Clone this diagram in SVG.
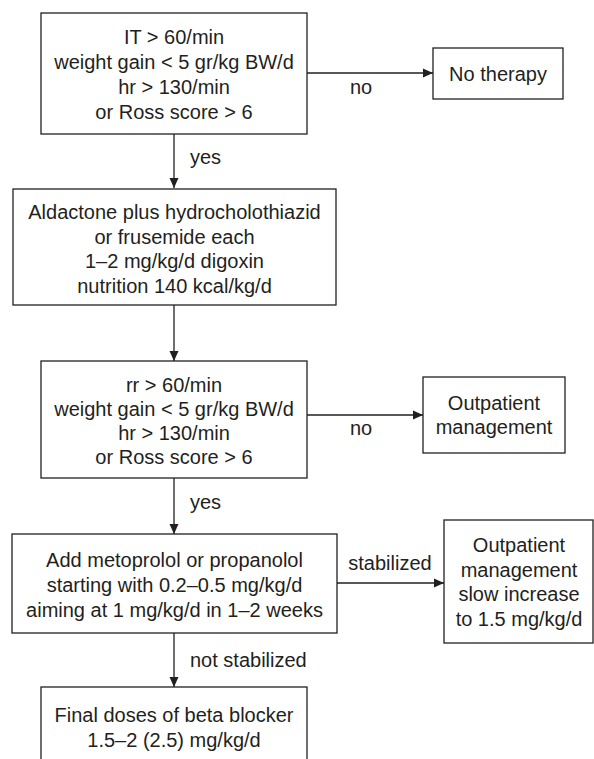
<svg xmlns="http://www.w3.org/2000/svg" width="594" height="759" viewBox="0 0 594 759">
<defs>
<marker id="ah" markerWidth="10" markerHeight="10" refX="10" refY="5" orient="auto" markerUnits="userSpaceOnUse">
<path d="M0,0.5 L10,5 L0,9.5 Z" fill="#231f20"/>
</marker>
<style>
rect{fill:#fff;stroke:#231f20;stroke-width:1.3}
text{font-family:"Liberation Sans",Arial,sans-serif;font-size:20px;fill:#231f20}
.c{text-anchor:middle}
.e{fill:none;stroke:#231f20;stroke-width:1.3;marker-end:url(#ah)}
</style>
</defs>
<rect x="0" y="0" width="594" height="759" style="fill:#fff;stroke:none"/>
<g id="connectors">
<line class="e" x1="174" y1="134" x2="174" y2="188"/>
<line class="e" x1="307" y1="73" x2="433" y2="73"/>
<line class="e" x1="174" y1="305" x2="174" y2="361"/>
<line class="e" x1="307" y1="415" x2="423" y2="415"/>
<line class="e" x1="174" y1="478" x2="174" y2="534"/>
<line class="e" x1="337" y1="583" x2="444" y2="583"/>
<line class="e" x1="174" y1="633" x2="174" y2="687"/>
<text x="361" y="94" class="c">no</text>
<text x="190" y="164">yes</text>
<text x="361" y="435" class="c">no</text>
<text x="190" y="509">yes</text>
<text x="390" y="570" class="c">stabilized</text>
<text x="190" y="667">not stabilized</text>
</g>
<g id="n1">
<rect x="41" y="13" width="266" height="121"/>
<text x="174" y="44" class="c">IT &gt; 60/min</text>
<text x="174" y="69" class="c">weight gain &lt; 5 gr/kg BW/d</text>
<text x="174" y="94" class="c">hr &gt; 130/min</text>
<text x="174" y="119" class="c">or Ross score &gt; 6</text>
</g>
<g id="n2">
<rect x="433" y="48" width="130" height="51"/>
<text x="498" y="81" class="c">No therapy</text>
</g>
<g id="n3">
<rect x="13" y="189" width="323" height="116"/>
<text x="174.5" y="219" class="c">Aldactone plus hydrocholothiazid</text>
<text x="174.5" y="243.5" class="c">or frusemide each</text>
<text x="174.5" y="268" class="c">1–2 mg/kg/d digoxin</text>
<text x="174.5" y="292.5" class="c">nutrition 140 kcal/kg/d</text>
</g>
<g id="n4">
<rect x="41" y="361" width="266" height="117"/>
<text x="174" y="392" class="c">rr &gt; 60/min</text>
<text x="174" y="416" class="c">weight gain &lt; 5 gr/kg BW/d</text>
<text x="174" y="440" class="c">hr &gt; 130/min</text>
<text x="174" y="464" class="c">or Ross score &gt; 6</text>
</g>
<g id="n5">
<rect x="423" y="377" width="142" height="76"/>
<text x="494" y="410" class="c">Outpatient</text>
<text x="494" y="434" class="c">management</text>
</g>
<g id="n6">
<rect x="12" y="534" width="325" height="99"/>
<text x="174.5" y="567" class="c">Add metoprolol or propanolol</text>
<text x="174.5" y="592" class="c">starting with 0.2–0.5 mg/kg/d</text>
<text x="174.5" y="617" class="c">aiming at 1 mg/kg/d in 1–2 weeks</text>
</g>
<g id="n7">
<rect x="444" y="520" width="149" height="123"/>
<text x="519" y="552" class="c">Outpatient</text>
<text x="519" y="576.5" class="c">management</text>
<text x="519" y="601" class="c">slow increase</text>
<text x="519" y="625.5" class="c">to 1.5 mg/kg/d</text>
</g>
<g id="n8">
<rect x="41" y="687" width="266" height="90"/>
<text x="174" y="722" class="c">Final doses of beta blocker</text>
<text x="174" y="747" class="c">1.5–2 (2.5) mg/kg/d</text>
</g>
</svg>
